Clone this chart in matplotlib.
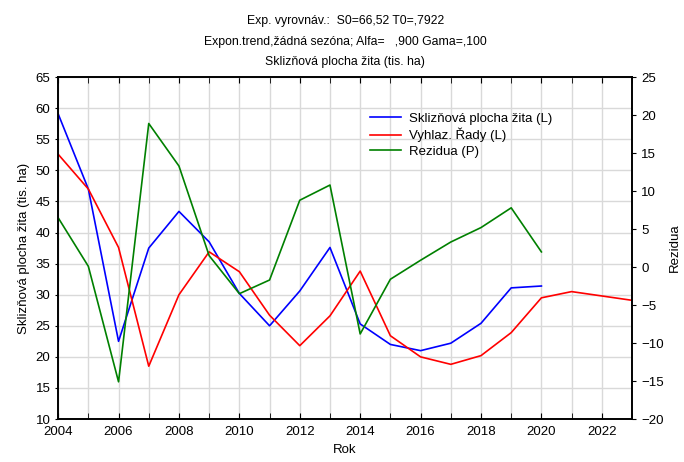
import matplotlib
matplotlib.use("Agg")
import matplotlib.pyplot as plt

plt.rcParams['font.family'] = ['Liberation Sans', 'DejaVu Sans']

roky = list(range(2004, 2021))
plocha = [59.1, 47.0, 22.5, 37.5, 43.4, 38.5, 30.2, 25.0, 30.6, 37.6,
          25.3, 22.0, 21.0, 22.2, 25.4, 31.1, 31.4]

roky_vyhl = list(range(2004, 2024))
vyhlaz = [52.6, 47.0, 37.6, 18.5, 30.0, 36.9, 33.7, 26.7, 21.8, 26.6,
          33.8, 23.4, 20.0, 18.8, 20.2, 23.9, 29.5, 30.5, 29.8, 29.1]

rezidua = [6.5, 0.1, -15.1, 18.9, 13.3, 1.5, -3.5, -1.7, 8.8, 10.8,
           -8.8, -1.6, 0.9, 3.3, 5.2, 7.8, 2.0]

fig = plt.figure(figsize=(6.84, 4.62), dpi=100)
ax = fig.add_axes([0.085, 0.093, 0.839, 0.74])
ax2 = ax.twinx()

l1, = ax.plot(roky, plocha, color='blue', lw=1.2, label='Sklizňová plocha žita (L)')
l2, = ax.plot(roky_vyhl, vyhlaz, color='red', lw=1.2, label='Vyhlaz. Řady (L)')
l3, = ax2.plot(roky, rezidua, color='green', lw=1.2, label='Rezidua (P)')

ax.set_xlim(2004, 2023)
ax.set_ylim(10, 65)
ax2.set_ylim(-20, 25)
ax.set_xticks(range(2004, 2024, 2))
ax.set_xticks(range(2004, 2024), minor=True)
ax.set_yticks(range(10, 66, 5))
ax2.set_yticks(range(-20, 26, 5))

ax.grid(True, which='both', color='#d9d9d9', lw=1)
ax.set_axisbelow(True)
ax.tick_params(axis='x', which='both', direction='in', top=True, length=4, labelsize=9.5, pad=5)
ax.tick_params(axis='y', direction='out', length=2, labelsize=9.5)
ax2.tick_params(axis='y', direction='out', length=3, labelsize=9.5)
for s in list(ax.spines.values()) + list(ax2.spines.values()):
    s.set_linewidth(1.2)

ax.set_xlabel('Rok', fontsize=9.5)
ax.set_ylabel('Sklizňová plocha žita (tis. ha)', fontsize=9.5)
ax2.set_ylabel('Rezidua', fontsize=9.5)

ax.legend(handles=[l1, l2, l3], loc='upper left', bbox_to_anchor=(0.543, 0.897),
          frameon=False, fontsize=9.5, handlelength=2.4, handletextpad=0.6,
          labelspacing=0.25, borderpad=0, borderaxespad=0)

fig.text(0.505, 0.955, 'Exp. vyrovnáv.:  S0=66,52 T0=,7922', ha='center', va='center', fontsize=8.8)
fig.text(0.505, 0.910, 'Expon.trend,žádná sezóna; Alfa=   ,900 Gama=,100', ha='center', va='center', fontsize=8.8)
fig.text(0.505, 0.865, 'Sklizňová plocha žita (tis. ha)', ha='center', va='center', fontsize=8.8)

fig.savefig('out.png', dpi=100)
